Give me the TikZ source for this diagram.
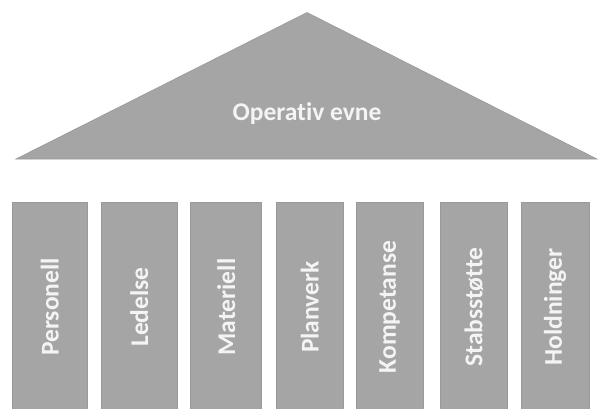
\documentclass[tikz,border=0pt]{standalone}
\usepackage{fontspec}
\setmainfont[Ligatures=NoCommon]{Carlito}
\begin{document}
\begin{tikzpicture}[x=1pt,y=-1pt]
  \definecolor{slate}{HTML}{A5A5A5}
  \definecolor{slateedge}{HTML}{999999}
  \definecolor{label}{HTML}{F4F4F4}
  \tikzset{
    roof/.style={fill=slate, draw=slateedge, line width=0.6pt, line join=miter},
    pillar/.style={fill=slate, draw=slateedge, line width=0.6pt, rectangle,
      inner sep=0pt, rotate=90, minimum width=210pt,
      text=label, font=\fontsize{25.5}{30}\selectfont\bfseries},
    rooflabel/.style={text=label, font=\fontsize{25.5}{30}\selectfont\bfseries, inner sep=0pt}
  }
  \useasboundingbox (0,0) rectangle (603,408);
  \clip (0,0) rectangle (603,408);

  % roof
  \coordinate (apex) at (307,12.5);
  \coordinate (bl) at (16,159);
  \coordinate (br) at (597,159);
  \draw[roof] (apex) -- (br) -- (bl) -- cycle;
  \node[rooflabel, anchor=base] (roofText) at (307,120) {Operativ evne};

  % pillars: centre x, width
  \foreach \name/\cx/\w/\txt in {
      p1/49.8/74.3/Personell,
      p2/139.3/75.3/Ledelse,
      p3/226.2/71/Materiell,
      p4/309.7/67.3/Planverk,
      p5/389.5/67/Kompetanse,
      p6/473.8/67.7/Stabsstøtte,
      p7/555/68/Holdninger} {
    \node[pillar, minimum height=\w pt] (\name) at (\cx,307) {\txt};
  }
\end{tikzpicture}
\end{document}
